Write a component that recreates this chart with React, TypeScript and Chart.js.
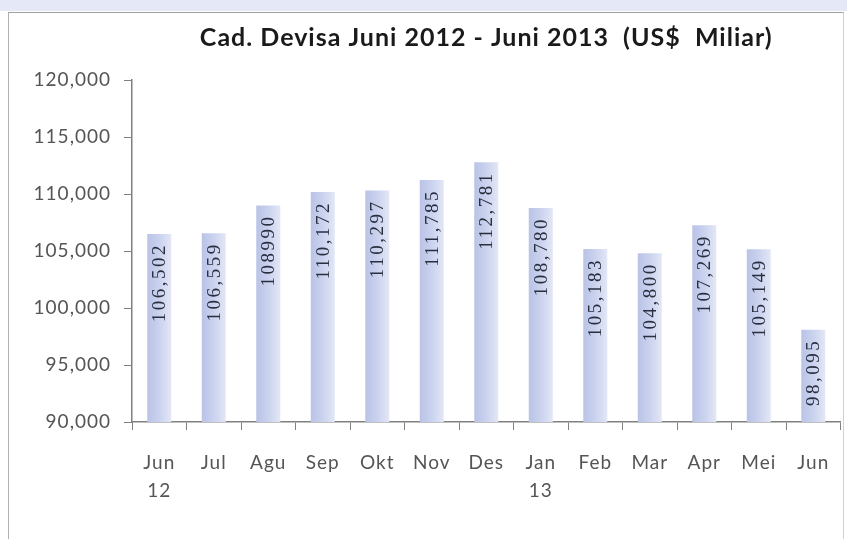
import { useEffect, useRef } from "react";
import { Chart, registerables } from "chart.js";

Chart.register(...registerables);

const chartTitle = "Cad. Devisa Juni 2012 - Juni 2013  (US$  Miliar)";
const categories: (string | string[])[] = [
  ["Jun", "12"], "Jul", "Agu", "Sep", "Okt", "Nov", "Des",
  ["Jan", "13"], "Feb", "Mar", "Apr", "Mei", "Jun",
];
const reserveValues = [
  106502, 106559, 108990, 110172, 110297, 111230, 112781,
  108780, 105183, 104800, 107269, 105149, 98095,
];
const valueLabels = [
  "106,502", "106,559", "108990", "110,172", "110,297", "111,785", "112,781",
  "108,780", "105,183", "104,800", "107,269", "105,149", "98,095",
];
const yMin = 90000;
const yMax = 120000;
const yStep = 5000;

const BAR_PCT = 0.44;
const AXIS = "#808080";

const spacingPlugin = {
  id: "spacing",
  beforeDraw(chart: any) {
    chart.ctx.letterSpacing = "1px";
  },
};

const barLabelPlugin = {
  id: "barLabels",
  afterDatasetsDraw(chart: any) {
    const ctx = chart.ctx;
    const meta = chart.getDatasetMeta(0);
    ctx.save();
    ctx.font = "19px 'Liberation Serif'";
    ctx.letterSpacing = "2.5px";
    ctx.fillStyle = "#2a2f40";
    ctx.textAlign = "right";
    ctx.textBaseline = "middle";
    meta.data.forEach((bar: any, i: number) => {
      ctx.save();
      ctx.translate(bar.x + 1, bar.y + 9);
      ctx.rotate(-Math.PI / 2);
      ctx.fillText(valueLabels[i], 0, 0);
      ctx.restore();
    });
    ctx.restore();
  },
};

export default function App() {
  const ref = useRef<HTMLCanvasElement>(null);

  useEffect(() => {
    if (!ref.current) return;
    const chart = new Chart(ref.current, {
      type: "bar",
      data: {
        labels: categories,
        datasets: [
          {
            data: reserveValues,
            barPercentage: BAR_PCT,
            categoryPercentage: 1,
            borderWidth: 0,
            backgroundColor: (c: any) => {
              const ch = c.chart;
              const xs = ch.scales?.x;
              if (!ch.chartArea || !xs) return "#c8d0ec";
              const x = xs.getPixelForValue(c.dataIndex);
              const half = (xs.width / categories.length) * BAR_PCT / 2;
              const g = ch.ctx.createLinearGradient(x - half, 0, x + half, 0);
              g.addColorStop(0, "#b9c3e6");
              g.addColorStop(0.5, "#cad2ee");
              g.addColorStop(1, "#e3e7f6");
              return g;
            },
          },
        ],
      },
      options: {
        responsive: false,
        animation: false,
        devicePixelRatio: 1,
        layout: { padding: { left: 0, right: 4, top: 0, bottom: 0 } },
        plugins: {
          legend: { display: false },
          tooltip: { enabled: false },
          title: {
            display: true,
            text: chartTitle,
            fullSize: false,
            color: "#1a1a1a",
            font: { family: "Lato", size: 25, weight: "bold", lineHeight: 1.2 },
            padding: { top: 23, bottom: 27 },
          },
        },
        scales: {
          x: {
            offset: true,
            grid: {
              display: true,
              drawOnChartArea: false,
              drawTicks: true,
              tickLength: 8,
              color: AXIS,
              offset: true,
            },
            border: { display: true, color: AXIS, width: 1.5 },
            ticks: {
              color: "#555555",
              padding: 19,
              autoSkip: false,
              maxRotation: 0,
              font: { family: "Lato", size: 19, lineHeight: 1.47 },
            },
            afterFit: (s: any) => {
              s.height = 117;
            },
          },
          y: {
            min: yMin,
            max: yMax,
            grid: {
              display: true,
              drawOnChartArea: false,
              drawTicks: true,
              tickLength: 8,
              color: AXIS,
            },
            border: { display: true, color: AXIS, width: 1.5 },
            ticks: {
              stepSize: yStep,
              color: "#555555",
              padding: 13,
              font: { family: "Lato", size: 19 },
              callback: (v: any) => Number(v).toLocaleString("en-US"),
            },
            afterFit: (s: any) => {
              s.width = 132;
            },
          },
        },
      },
      plugins: [spacingPlugin, barLabelPlugin],
    });
    return () => chart.destroy();
  }, []);

  return (
    <div
      style={{
        position: "fixed",
        left: 0,
        top: 0,
        width: 847,
        height: 539,
        background: "#ffffff",
        overflow: "hidden",
      }}
    >
      <div
        style={{
          position: "absolute",
          left: 0,
          top: 0,
          width: 847,
          height: 11,
          background: "#e5e8f7",
        }}
      />
      <div
        style={{
          position: "absolute",
          left: 8,
          top: 12,
          width: 834,
          height: 540,
          borderTop: "1.5px solid #a0a0a0",
          borderLeft: "1.5px solid #b0b0b0",
          borderRight: "1px solid #d0d0d0",
        }}
      />
      <canvas
        ref={ref}
        width={847}
        height={539}
        style={{ position: "absolute", left: 0, top: 0, width: 847, height: 539 }}
      />
    </div>
  );
}
